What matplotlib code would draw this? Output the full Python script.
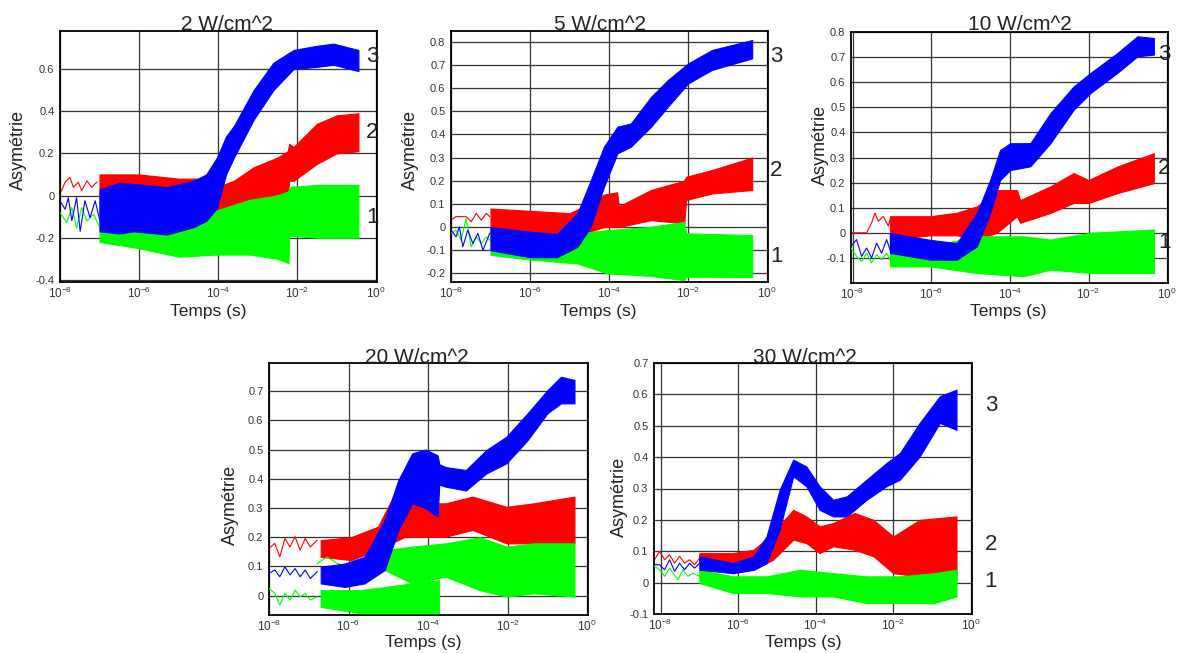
import matplotlib
matplotlib.use("Agg")
import matplotlib.pyplot as plt
import numpy as np

W, H = 1177, 653

# ---- data: log10(time [s]) and asymmetry values ----
# early sparse part -> (log t, value); dense noisy part -> (log t, low, high)

# 2 W/cm^2
p1_red_early = [(-8.0, 0.007), (-7.87, 0.063), (-7.75, 0.086), (-7.66, 0.039), (-7.54, 0.063),
                (-7.45, 0.023), (-7.32, 0.07), (-7.2, 0.039), (-7.07, 0.063)]
p1_red_band = [(-7.0, -0.08, 0.10), (-6.0, -0.06, 0.10), (-5.0, -0.05, 0.08), (-4.5, -0.03, 0.08),
               (-4.03, -0.09, 0.04), (-3.6, -0.07, 0.07), (-3.1, -0.04, 0.134), (-2.5, 0.007, 0.18),
               (-2.24, -0.01, 0.21), (-2.2, 0.07, 0.245), (-2.09, 0.07, 0.23), (-1.5, 0.15, 0.34),
               (-1.0, 0.20, 0.38), (-0.45, 0.21, 0.39)]
p1_green_early = [(-8.0, -0.081), (-7.83, -0.129), (-7.70, -0.057), (-7.58, -0.153), (-7.45, -0.057),
                  (-7.32, -0.121), (-7.15, -0.089), (-6.99, -0.153)]
p1_green_band = [(-7.0, -0.22, -0.03), (-6.0, -0.25, -0.02), (-5.0, -0.29, -0.05), (-4.03, -0.28, -0.07),
                 (-3.2, -0.28, -0.02), (-2.5, -0.30, 0.0), (-2.22, -0.32, 0.02), (-2.2, -0.19, 0.04),
                 (-1.5, -0.20, 0.05), (-0.45, -0.20, 0.05)]
p1_blue_early = [(-8.0, -0.025), (-7.87, -0.065), (-7.79, -0.01), (-7.70, -0.12), (-7.58, -0.01),
                 (-7.49, -0.17), (-7.37, -0.025), (-7.24, -0.105), (-7.11, -0.025), (-6.99, -0.12)]
p1_blue_band = [(-7.0, -0.17, 0.03), (-6.5, -0.18, 0.06), (-6.14, -0.17, 0.055), (-5.3, -0.185, 0.04),
                (-4.62, -0.15, 0.07), (-4.3, -0.12, 0.10), (-4.03, -0.06, 0.18), (-3.8, 0.10, 0.28),
                (-3.6, 0.18, 0.33), (-3.1, 0.36, 0.50), (-2.6, 0.50, 0.63), (-2.09, 0.60, 0.69),
                (-1.5, 0.61, 0.71), (-1.08, 0.62, 0.72), (-0.45, 0.59, 0.69)]

# 5 W/cm^2
p2_red_early = [(-8.0, 0.03), (-7.872, 0.045), (-7.745, 0.045), (-7.617, 0.045), (-7.489, 0.023),
                (-7.362, 0.059), (-7.234, 0.03), (-7.106, 0.059), (-7.021, 0.045)]
p2_red_band = [(-7.0, -0.03, 0.08), (-6.0, -0.04, 0.07), (-5.0, -0.03, 0.06), (-4.5, -0.02, 0.10),
               (-4.13, 0.0, 0.14), (-3.8, 0.0, 0.15), (-3.75, 0.0, 0.09), (-2.94, 0.03, 0.16),
               (-2.1, 0.016, 0.20), (-2.05, 0.117, 0.217), (-1.4, 0.145, 0.246), (-0.38, 0.16, 0.30)]
p2_green_early = [(-8.0, -0.027), (-7.872, -0.013), (-7.745, -0.056), (-7.617, 0.037), (-7.489, -0.085),
                  (-7.362, -0.042), (-7.234, -0.071), (-7.106, -0.042), (-7.021, -0.056)]
p2_green_band = [(-7.0, -0.12, -0.02), (-6.0, -0.14, -0.06), (-4.8, -0.157, -0.027), (-4.04, -0.20, -0.013),
                 (-3.0, -0.21, 0.0), (-2.1, -0.229, 0.022), (-2.05, -0.214, -0.027), (-0.38, -0.215, -0.035)]
p2_blue_early = [(-8.0, -0.013), (-7.872, -0.042), (-7.787, 0.001), (-7.702, -0.085), (-7.574, -0.013),
                 (-7.447, -0.071), (-7.319, -0.027), (-7.191, -0.10), (-7.021, -0.027)]
p2_blue_band = [(-7.0, -0.10, 0.0), (-6.0, -0.13, -0.02), (-5.32, -0.13, -0.03), (-4.8, -0.085, 0.06),
                (-4.47, 0.0, 0.20), (-4.13, 0.174, 0.347), (-3.79, 0.318, 0.433), (-3.45, 0.347, 0.447),
                (-2.94, 0.433, 0.562), (-2.51, 0.52, 0.635), (-2.0, 0.62, 0.706), (-1.4, 0.678, 0.764),
                (-0.38, 0.728, 0.807)]

# 10 W/cm^2
p3_red_early = [(-8.04, 0.0), (-7.643, 0.0), (-7.516, 0.039), (-7.431, 0.079), (-7.346, 0.046),
                (-7.219, 0.066), (-7.091, 0.027), (-7.049, 0.052)]
p3_red_band = [(-7.05, -0.027, 0.066), (-6.03, -0.01, 0.066), (-5.35, -0.01, 0.08), (-4.84, -0.027, 0.105),
               (-4.33, 0.0, 0.17), (-3.82, 0.066, 0.17), (-3.74, 0.04, 0.13), (-2.97, 0.079, 0.185),
               (-2.38, 0.119, 0.238), (-2.0, 0.119, 0.21), (-1.27, 0.158, 0.264), (-0.34, 0.198, 0.317)]
p3_green_early = [(-8.04, -0.061), (-7.898, -0.094), (-7.771, -0.114), (-7.643, -0.081), (-7.516, -0.12),
                  (-7.389, -0.087), (-7.261, -0.107), (-7.134, -0.081), (-7.049, -0.107)]
p3_green_band = [(-7.05, -0.134, -0.054), (-6.03, -0.134, -0.054), (-4.84, -0.16, -0.014),
                 (-3.65, -0.173, -0.014), (-2.97, -0.147, -0.027), (-1.95, -0.16, 0.0), (-0.34, -0.16, 0.013)]
p3_blue_early = [(-8.04, -0.054), (-7.898, -0.027), (-7.771, -0.094), (-7.643, -0.061), (-7.516, -0.10),
                 (-7.389, -0.041), (-7.261, -0.081), (-7.134, -0.027), (-7.049, -0.067)]
p3_blue_band = [(-7.05, -0.08, -0.001), (-6.03, -0.107, -0.028), (-5.35, -0.107, -0.041),
                (-4.84, -0.054, 0.078), (-4.5, 0.079, 0.211), (-4.25, 0.21, 0.33), (-3.99, 0.25, 0.357),
                (-3.48, 0.265, 0.357), (-2.97, 0.357, 0.477), (-2.38, 0.49, 0.583), (-1.95, 0.557, 0.637),
                (-1.27, 0.637, 0.716), (-0.76, 0.703, 0.783), (-0.34, 0.71, 0.776)]

# 20 W/cm^2
p4_red_early = [(-8.0, 0.162), (-7.855, 0.179), (-7.728, 0.133), (-7.6, 0.196), (-7.472, 0.167),
                (-7.345, 0.202), (-7.217, 0.156), (-7.089, 0.196), (-6.962, 0.167), (-6.79, 0.19)]
p4_red_band = [(-6.7, 0.133, 0.19), (-5.94, 0.122, 0.20), (-5.26, 0.156, 0.236), (-4.92, 0.179, 0.327),
               (-4.58, 0.202, 0.339), (-4.07, 0.202, 0.316), (-3.56, 0.202, 0.316), (-2.88, 0.225, 0.339),
               (-2.03, 0.179, 0.304), (-1.34, 0.179, 0.316), (-0.32, 0.179, 0.339)]
p4_green_early = [(-8.0, 0.025), (-7.855, 0.008), (-7.728, -0.032), (-7.6, 0.008), (-7.472, -0.015),
                  (-7.345, 0.019), (-7.217, -0.004), (-7.089, 0.008), (-6.962, -0.015), (-6.79, -0.004)]
p4_green_band = [(-6.7, -0.038, 0.019), (-5.7, -0.06, 0.019), (-4.4, -0.06, 0.042), (-3.73, -0.06, 0.053)]
p4_green2_early = [(-6.79, 0.11), (-6.54, 0.133), (-6.28, 0.11), (-5.7, 0.09), (-5.3, 0.10)]
p4_green2_band = [(-5.09, 0.088, 0.156), (-4.4, 0.042, 0.168), (-3.56, 0.065, 0.179), (-2.7, 0.019, 0.20),
                  (-2.03, -0.003, 0.168), (-1.34, 0.008, 0.179), (-0.32, -0.003, 0.179)]
p4_blue_early = [(-8.0, 0.076), (-7.855, 0.088), (-7.728, 0.065), (-7.6, 0.099), (-7.472, 0.071),
                 (-7.345, 0.093), (-7.217, 0.065), (-7.089, 0.088), (-6.962, 0.059), (-6.79, 0.082)]
p4_blue_band = [(-6.7, 0.042, 0.099), (-6.1, 0.03, 0.11), (-5.6, 0.042, 0.133), (-5.09, 0.088, 0.259),
                (-4.75, 0.224, 0.395), (-4.4, 0.316, 0.487), (-4.07, 0.30, 0.50), (-3.76, 0.27, 0.48),
                (-3.72, 0.38, 0.45), (-3.56, 0.373, 0.44), (-3.05, 0.36, 0.43), (-2.54, 0.418, 0.498),
                (-2.03, 0.453, 0.544), (-1.5, 0.532, 0.624), (-1.0, 0.624, 0.703), (-0.66, 0.658, 0.749),
                (-0.32, 0.658, 0.738)]

# 30 W/cm^2
p5_red_early = [(-8.155, 0.073), (-8.026, 0.10), (-7.897, 0.073), (-7.768, 0.089), (-7.639, 0.062),
                (-7.51, 0.084), (-7.381, 0.062), (-7.252, 0.073), (-7.123, 0.057), (-6.994, 0.078)]
p5_red_band = [(-7.0, 0.062, 0.094), (-6.13, 0.041, 0.094), (-5.6, 0.041, 0.105), (-5.1, 0.073, 0.158),
               (-4.58, 0.137, 0.232), (-4.24, 0.126, 0.211), (-3.9, 0.094, 0.179), (-3.55, 0.116, 0.19),
               (-3.0, 0.105, 0.222), (-2.51, 0.084, 0.20), (-2.0, 0.03, 0.147), (-1.32, 0.02, 0.20),
               (-0.37, 0.009, 0.211)]
p5_green_early = [(-8.155, 0.052), (-8.026, 0.041), (-7.897, 0.02), (-7.768, 0.046), (-7.553, 0.009),
                  (-7.424, 0.041), (-7.295, 0.02), (-7.166, 0.03), (-6.994, 0.02)]
p5_green_band = [(-7.0, -0.001, 0.041), (-6.13, -0.033, 0.02), (-5.27, -0.033, 0.02), (-4.4, -0.044, 0.041),
                 (-3.55, -0.044, 0.03), (-2.69, -0.065, 0.02), (-1.83, -0.065, 0.02), (-0.94, -0.065, 0.03),
                 (-0.37, -0.044, 0.041)]
p5_blue_early = [(-8.155, 0.057), (-8.026, 0.057), (-7.897, 0.041), (-7.768, 0.073), (-7.639, 0.036),
                 (-7.51, 0.062), (-7.381, 0.041), (-7.252, 0.062), (-7.123, 0.046), (-6.994, 0.062)]
p5_blue_band = [(-7.0, 0.041, 0.084), (-6.13, 0.03, 0.062), (-5.6, 0.041, 0.084), (-5.27, 0.062, 0.147),
                (-4.93, 0.169, 0.296), (-4.58, 0.339, 0.392), (-4.24, 0.307, 0.37), (-3.9, 0.232, 0.307),
                (-3.55, 0.211, 0.264), (-3.2, 0.211, 0.275), (-2.69, 0.264, 0.328), (-2.18, 0.307, 0.381),
                (-1.83, 0.328, 0.413), (-1.32, 0.402, 0.509), (-0.8, 0.509, 0.594), (-0.37, 0.487, 0.615)]

titles = ["2 W/cm^2", "5 W/cm^2", "10 W/cm^2", "20 W/cm^2", "30 W/cm^2"]
ylims = [(-0.41, 0.78), (-0.237, 0.846), (-0.2, 0.8), (-0.066, 0.796), (-0.1, 0.7)]
yticks = [np.arange(-0.4, 0.61, 0.2), np.arange(-0.2, 0.81, 0.1), np.arange(-0.1, 0.81, 0.1),
          np.arange(0.0, 0.71, 0.1), np.arange(-0.1, 0.71, 0.1)]
xlims_log = [(-8.0, 0.02), (-8.0, 0.02), (-8.04, 0.02), (-8.0, 0.02), (-8.17, 0.03)]
curve_labels = [["1", "2", "3"], ["1", "2", "3"], ["1", "2", "3"], None, ["1", "2", "3"]]
curve_label_y = [[-0.105, 0.30, 0.66], [-0.128, 0.246, 0.735], [-0.038, 0.258, 0.71], None,
                 [0.004, 0.121, 0.564]]

# ---- layout (pixels) ----
axes_px = [(60, 31, 377, 282), (451, 31, 768, 282), (851, 32, 1168, 283),
           (269, 363, 588, 615), (654, 363, 972, 614)]
title_px = [(227, 30), (600, 30), (1020, 30), (417, 363), (805, 363)]
ylabel_px = [(18, 150), (410, 150), (820, 145), (230, 505), (619, 497)]
xlabel_px = [(208, 312), (598, 312), (1008, 311), (423, 642), (803, 642)]
num_dx_px = [-5, 8, -4, None, 19]

plt.rcParams['font.family'] = ['Liberation Sans', 'DejaVu Sans']
plt.rcParams['mathtext.fontset'] = 'custom'
plt.rcParams['mathtext.rm'] = 'Liberation Sans'
plt.rcParams['mathtext.it'] = 'Liberation Sans:italic'

fig = plt.figure(figsize=(W / 100, H / 100), dpi=100)


def fx(x):
    return x / W


def fy(y):
    return 1 - y / H


def draw_series(ax, early, band, color, z):
    if early:
        e = np.array(early)
        ax.plot(10 ** e[:, 0], e[:, 1], color=color, lw=0.8, zorder=z)
    b = np.array(band)
    t = 10 ** b[:, 0]
    ax.fill_between(t, b[:, 1], b[:, 2], color=color, lw=0.8, zorder=z)


series = [
    [(p1_red_early, p1_red_band, "#ff0000"), (p1_green_early, p1_green_band, "#00ff00"),
     (p1_blue_early, p1_blue_band, "#0000ff")],
    [(p2_red_early, p2_red_band, "#ff0000"), (p2_green_early, p2_green_band, "#00ff00"),
     (p2_blue_early, p2_blue_band, "#0000ff")],
    [(p3_red_early, p3_red_band, "#ff0000"), (p3_green_early, p3_green_band, "#00ff00"),
     (p3_blue_early, p3_blue_band, "#0000ff")],
    [(p4_red_early, p4_red_band, "#ff0000"), (p4_green_early, p4_green_band, "#00ff00"),
     (p4_green2_early, p4_green2_band, "#00ff00"), (p4_blue_early, p4_blue_band, "#0000ff")],
    [(p5_red_early, p5_red_band, "#ff0000"), (p5_green_early, p5_green_band, "#00ff00"),
     (p5_blue_early, p5_blue_band, "#0000ff")],
]

for i in range(5):
    l, t, r, b = axes_px[i]
    ax = fig.add_axes([fx(l), fy(b), (r - l) / W, (b - t) / H])
    for k, (early, band, color) in enumerate(series[i]):
        draw_series(ax, early, band, color, 2 + k)

    ax.set_xscale('log')
    ax.set_xlim(10 ** xlims_log[i][0], 10 ** xlims_log[i][1])
    ax.set_ylim(*ylims[i])
    ax.set_xticks([1e-8, 1e-6, 1e-4, 1e-2, 1e0])
    ax.xaxis.set_minor_locator(matplotlib.ticker.NullLocator())
    ax.set_yticks(yticks[i])
    ax.set_yticklabels(["0" if abs(v) < 1e-9 else f"{v:g}" for v in yticks[i]])
    ax.grid(True, color="#333333", lw=0.9)
    ax.set_axisbelow(True)
    ax.tick_params(length=0, labelsize=8, labelcolor="#333333", pad=4)
    ax.tick_params(axis='x', labelsize=8.5, pad=3)
    for s in ax.spines.values():
        s.set_linewidth(1.3)
        s.set_color("black")

    ax.text(fx(title_px[i][0]), fy(title_px[i][1]), titles[i], transform=fig.transFigure,
            ha='center', va='baseline', fontsize=15, color="#222222", zorder=10)
    fig.text(fx(ylabel_px[i][0]), fy(ylabel_px[i][1]), "Asymétrie", rotation=90,
             ha='center', va='center', fontsize=13, color="#222222")
    fig.text(fx(xlabel_px[i][0]), fy(xlabel_px[i][1]), "Temps (s)",
             ha='center', va='center', fontsize=12.5, color="#222222")

    if curve_labels[i]:
        for lab, yv in zip(curve_labels[i], curve_label_y[i]):
            ax.annotate(lab, xy=(1, yv), xycoords=('axes fraction', 'data'),
                        xytext=(num_dx_px[i] * 0.72, 0), textcoords='offset points',
                        ha='center', va='center', fontsize=16, color="#222222",
                        annotation_clip=False, zorder=10)

fig.savefig("out.png", dpi=100)
